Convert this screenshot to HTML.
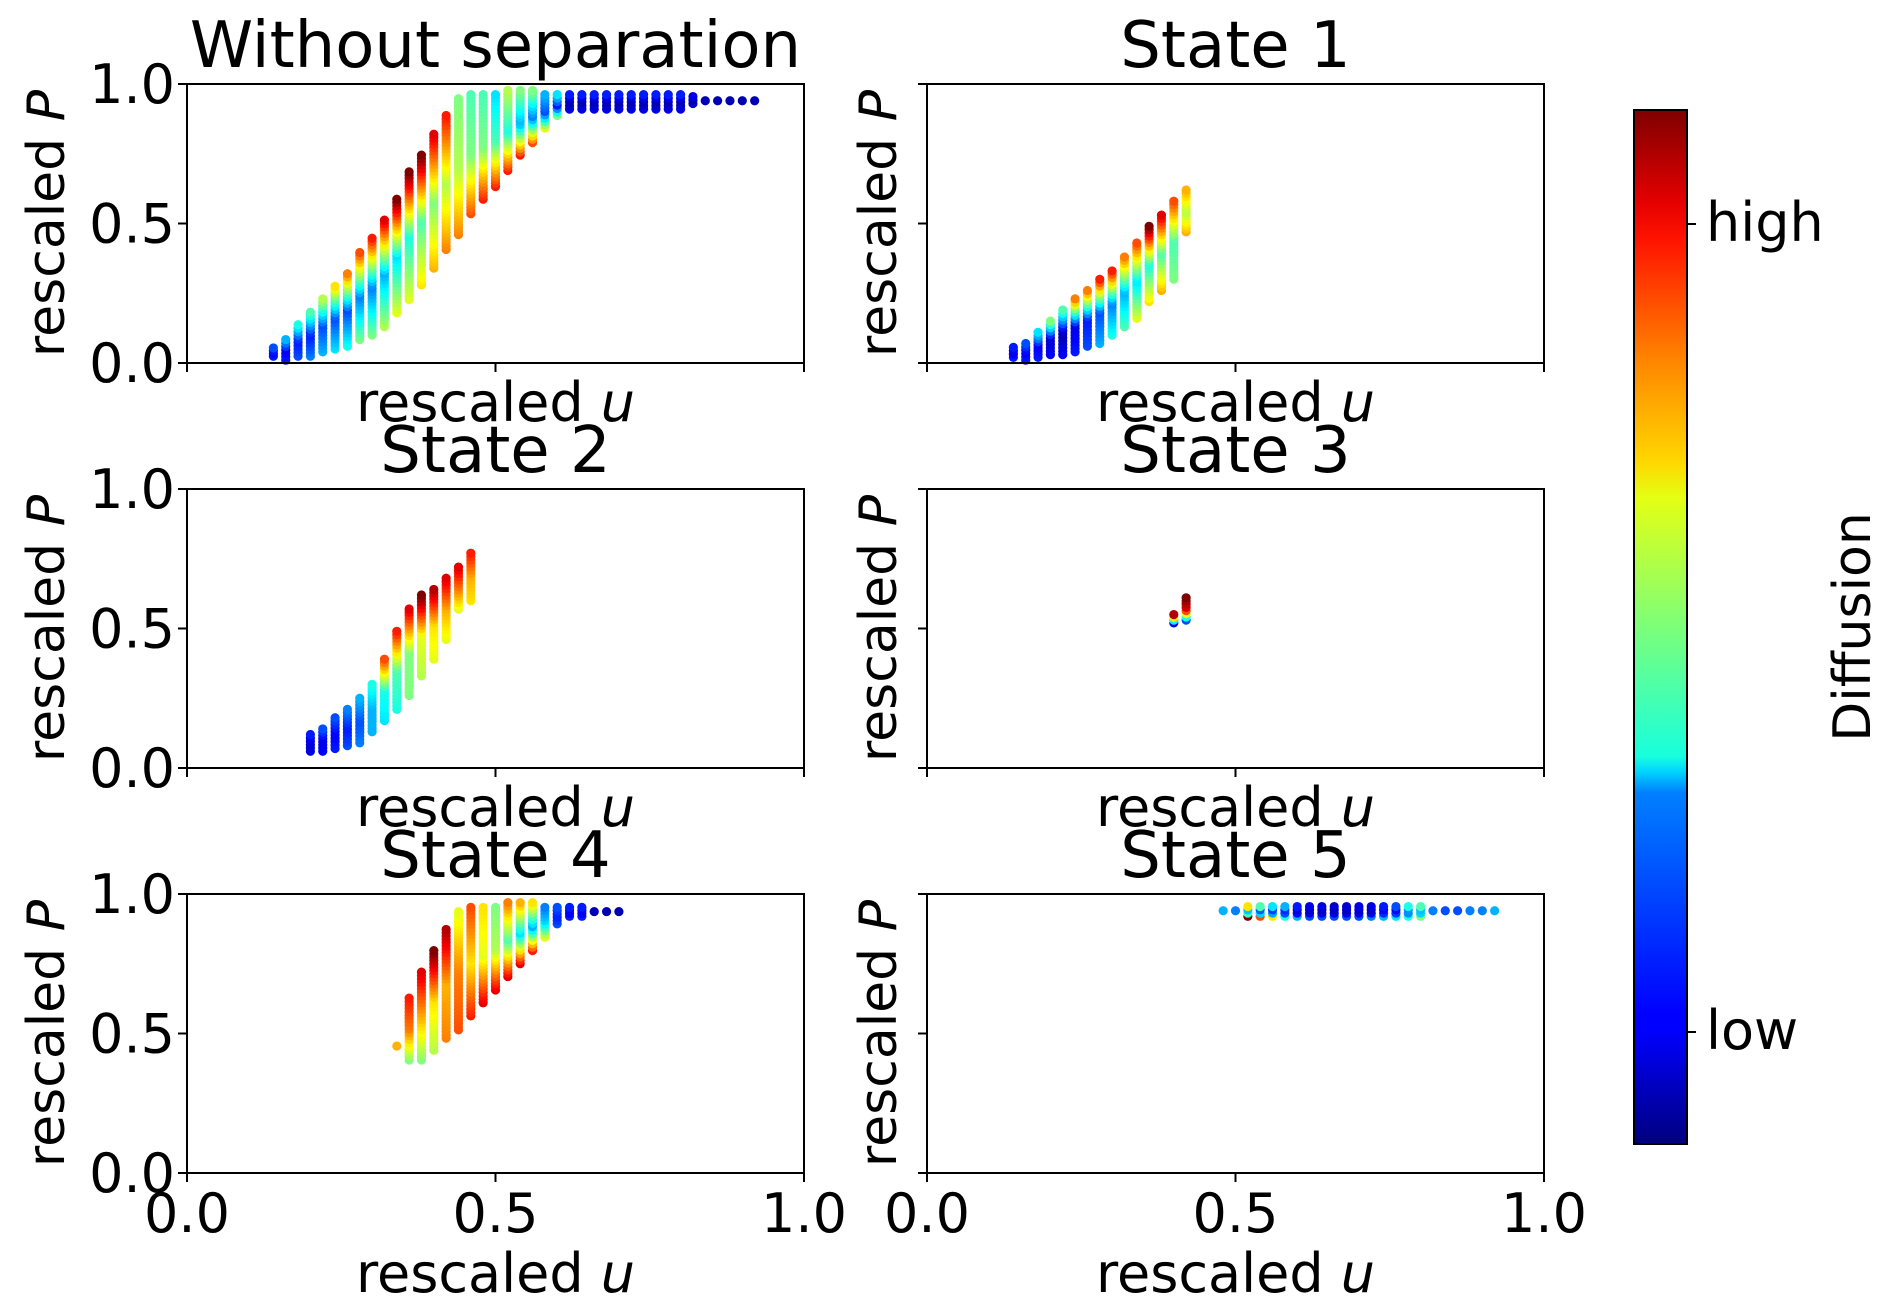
<!DOCTYPE html>
<html><head><meta charset="utf-8">
<style>
html,body{margin:0;padding:0;background:#fff;}
svg{display:block;font-family:"DejaVu Sans","Liberation Sans",sans-serif;}
</style></head>
<body>
<svg id="chart" width="1892" height="1312" viewBox="0 0 1892 1312" xmlns="http://www.w3.org/2000/svg">
<defs>
<linearGradient id="jet" x1="0" y1="1" x2="0" y2="0">
<stop offset="0" stop-color="#00007f"/><stop offset="0.11" stop-color="#0000ff"/>
<stop offset="0.125" stop-color="#0000ff"/><stop offset="0.34" stop-color="#0080ff"/>
<stop offset="0.36" stop-color="#00d4ff"/><stop offset="0.375" stop-color="#18ffde"/>
<stop offset="0.5" stop-color="#7cff79"/><stop offset="0.625" stop-color="#e4ff13"/>
<stop offset="0.66" stop-color="#ffd700"/><stop offset="0.75" stop-color="#ff8c00"/>
<stop offset="0.875" stop-color="#ff1300"/><stop offset="0.91" stop-color="#e60000"/>
<stop offset="1" stop-color="#7f0000"/>
</linearGradient>
</defs>
<g id="root"></g>
</svg>
<script>
// ---------- data ----------
// Panel 0: Without separation
const u0 = [0.14,0.16,0.18,0.20,0.22,0.24,0.26,0.28,0.30,0.32,0.34,0.36,0.38,0.40,0.42,0.44,0.46,0.48,0.50,0.52,0.54,0.56,0.58,0.60,0.62,0.64,0.66,0.68,0.70,0.72,0.74,0.76,0.78,0.80,0.82,0.84,0.86,0.88,0.90,0.92];
const lo0 = [0.024,0.01,0.024,0.024,0.04,0.05,0.06,0.084,0.10,0.13,0.18,0.227,0.28,0.34,0.407,0.46,0.535,0.587,0.632,0.69,0.745,0.79,0.842,0.887,0.91,0.91,0.91,0.91,0.91,0.91,0.91,0.91,0.91,0.91,0.93,0.94,0.94,0.94,0.94,0.94];
const hi0 = [0.054,0.084,0.137,0.182,0.23,0.275,0.32,0.396,0.447,0.512,0.587,0.685,0.745,0.82,0.887,0.947,0.962,0.962,0.962,0.977,0.977,0.977,0.962,0.962,0.962,0.962,0.962,0.962,0.962,0.962,0.962,0.962,0.962,0.962,0.955,0.94,0.94,0.94,0.94,0.94];
const cTop0 = [0.2,0.3,0.4,0.45,0.55,0.65,0.75,0.8,0.85,0.9,1.0,1.0,1.0,0.9,0.85,0.5,0.45,0.45,0.35,0.55,0.5,0.5,0.3,0.35,0.15,0.15,0.15,0.15,0.15,0.15,0.15,0.15,0.15,0.15,0.1,0.05,0.05,0.05,0.05,0.05];
const cMid0 = [0.12,0.12,0.15,0.15,0.2,0.2,0.2,0.25,0.25,0.3,0.35,0.4,0.45,0.5,0.55,0.55,0.5,0.5,0.45,0.4,0.3,0.25,0.2,0.15,0.05,0.05,0.05,0.05,0.05,0.05,0.05,0.05,0.05,0.05,0.05,0.05,0.05,0.05,0.05,0.05];
const cBot0 = [0.15,0.15,0.2,0.25,0.3,0.35,0.4,0.5,0.5,0.55,0.6,0.6,0.65,0.7,0.75,0.75,0.8,0.85,0.85,0.85,0.85,0.8,0.6,0.5,0.1,0.1,0.1,0.1,0.1,0.1,0.1,0.1,0.1,0.1,0.08,0.05,0.05,0.05,0.05,0.05];
// Panel 1: State 1
const u1 = [0.14,0.16,0.18,0.20,0.22,0.24,0.26,0.28,0.30,0.32,0.34,0.36,0.38,0.40,0.42];
const lo1 = [0.02,0.01,0.02,0.03,0.03,0.04,0.06,0.07,0.10,0.13,0.16,0.22,0.26,0.30,0.47];
const hi1 = [0.056,0.07,0.11,0.15,0.19,0.23,0.26,0.30,0.33,0.38,0.43,0.49,0.53,0.58,0.62];
const cTop1 = [0.15,0.2,0.35,0.5,0.45,0.75,0.75,0.85,0.85,0.75,0.8,1.0,0.9,0.8,0.7];
const cMid1 = [0.1,0.12,0.12,0.08,0.05,0.1,0.15,0.2,0.25,0.3,0.35,0.4,0.45,0.45,0.55];
const cBot1 = [0.15,0.15,0.15,0.12,0.12,0.15,0.2,0.3,0.4,0.45,0.6,0.65,0.7,0.5,0.7];
// Panel 2: State 2
const u2 = [0.20,0.22,0.24,0.26,0.28,0.30,0.32,0.34,0.36,0.38,0.40,0.42,0.44,0.46];
const lo2 = [0.06,0.06,0.07,0.08,0.09,0.13,0.17,0.21,0.26,0.33,0.39,0.46,0.57,0.60];
const hi2 = [0.12,0.14,0.18,0.21,0.25,0.30,0.39,0.49,0.57,0.62,0.64,0.68,0.72,0.77];
const cTop2 = [0.15,0.2,0.2,0.25,0.3,0.4,0.8,0.85,0.9,1.0,0.95,0.9,0.9,0.85];
const cMid2 = [0.08,0.1,0.12,0.15,0.2,0.3,0.4,0.45,0.5,0.6,0.65,0.7,0.75,0.7];
const cBot2 = [0.1,0.12,0.15,0.2,0.25,0.3,0.35,0.4,0.5,0.55,0.6,0.6,0.6,0.65];
// Panel 3: State 3
const u3 = [0.40,0.42];
const lo3 = [0.52,0.53];
const hi3 = [0.55,0.61];
const cTop3 = [0.95,1.0];
const cMid3 = [0.5,0.9];
const cBot3 = [0.1,0.2];
// Panel 4: State 4
const u4 = [0.34,0.36,0.38,0.40,0.42,0.44,0.46,0.48,0.50,0.52,0.54,0.56,0.58,0.60,0.62,0.64,0.66,0.68,0.70];
const lo4 = [0.455,0.405,0.405,0.44,0.483,0.513,0.563,0.61,0.656,0.704,0.75,0.797,0.845,0.893,0.92,0.92,0.937,0.937,0.937];
const hi4 = [0.455,0.627,0.72,0.797,0.873,0.937,0.952,0.952,0.952,0.969,0.969,0.969,0.952,0.952,0.952,0.952,0.937,0.937,0.937];
const cTop4 = [0.7,0.85,0.9,1.0,0.95,0.6,0.8,0.65,0.5,0.75,0.7,0.65,0.25,0.2,0.15,0.15,0.05,0.05,0.05];
const cMid4 = [0.7,0.75,0.7,0.65,0.7,0.75,0.65,0.6,0.55,0.45,0.35,0.3,0.35,0.15,0.1,0.1,0.05,0.05,0.05];
const cBot4 = [0.7,0.5,0.5,0.55,0.75,0.8,0.85,0.9,0.9,0.9,0.9,0.85,0.6,0.2,0.15,0.15,0.05,0.05,0.05];
// Panel 5: State 5
const u5 = [0.48,0.50,0.52,0.54,0.56,0.58,0.60,0.62,0.64,0.66,0.68,0.70,0.72,0.74,0.76,0.78,0.80,0.82,0.84,0.86,0.88,0.90,0.92];
const lo5 = [0.94,0.94,0.92,0.92,0.92,0.92,0.92,0.92,0.92,0.92,0.92,0.92,0.92,0.92,0.92,0.92,0.92,0.94,0.94,0.94,0.94,0.94,0.94];
const hi5 = [0.94,0.94,0.955,0.955,0.955,0.955,0.955,0.955,0.955,0.955,0.955,0.955,0.955,0.955,0.955,0.955,0.955,0.94,0.94,0.94,0.94,0.94,0.94];
const cTop5 = [0.3,0.25,0.65,0.45,0.35,0.3,0.15,0.1,0.1,0.08,0.08,0.1,0.1,0.15,0.2,0.4,0.45,0.25,0.2,0.2,0.25,0.25,0.3];
const cMid5 = [0.3,0.25,0.15,0.1,0.1,0.1,0.05,0.05,0.05,0.05,0.05,0.05,0.05,0.1,0.1,0.2,0.25,0.25,0.2,0.2,0.25,0.25,0.3];
const cBot5 = [0.3,0.25,1.0,0.8,0.65,0.4,0.3,0.2,0.2,0.2,0.2,0.2,0.25,0.3,0.35,0.4,0.5,0.25,0.2,0.2,0.25,0.25,0.3];

const titles = ["Without separation","State 1","State 2","State 3","State 4","State 5"];
const tickVals = [0.0,0.5,1.0];
const tickLabels = ["0.0","0.5","1.0"];
const panels = [[u0,lo0,hi0,cTop0,cMid0,cBot0],[u1,lo1,hi1,cTop1,cMid1,cBot1],[u2,lo2,hi2,cTop2,cMid2,cBot2],[u3,lo3,hi3,cTop3,cMid3,cBot3],[u4,lo4,hi4,cTop4,cMid4,cBot4],[u5,lo5,hi5,cTop5,cMid5,cBot5]];

// ---------- rendering ----------
const NS = "http://www.w3.org/2000/svg";
const root = document.getElementById("root");
function el(tag, attrs, parent){ const e=document.createElementNS(NS,tag); for(const k in attrs) e.setAttribute(k,attrs[k]); (parent||root).appendChild(e); return e; }
function jet(v){
  v=Math.max(0,Math.min(1,v));
  const r=Math.max(0,Math.min(1,1.5-Math.abs(4*v-3)));
  const g=Math.max(0,Math.min(1,1.5-Math.abs(4*v-2)));
  const b=Math.max(0,Math.min(1,1.5-Math.abs(4*v-1)));
  return "rgb("+Math.round(r*255)+","+Math.round(g*255)+","+Math.round(b*255)+")";
}
const colX=[187,927], rowY=[84,489,894], PW=617, PH=279;
for(let i=0;i<6;i++){
  const col=i%2, row=Math.floor(i/2);
  const x0=colX[col], y0=rowY[row];
  const sx=v=>x0+v*PW, sy=v=>y0+PH-v*PH;
  const g=el("g",{});
  
  
  const [u,lo,hi,ct,cm,cb]=panels[i];
  const pts=el("g",{},g);
  
  
  for(let j=0;j<u.length;j++){
    const n=Math.max(1,Math.round((hi[j]-lo[j])/0.012)+1);
    for(let k=0;k<n;k++){
      const t=n===1?0.5:k/(n-1);
      const p=lo[j]+(hi[j]-lo[j])*t;
      const c = t<0.5 ? cb[j]+(cm[j]-cb[j])*(t/0.5) : cm[j]+(ct[j]-cm[j])*((t-0.5)/0.5);
      const d=el("circle",{cx:sx(u[j]),cy:sy(p),r:4.6,fill:jet(c)},pts);
      
      
    }
  }
  const frame=el("rect",{x:x0,y:y0,width:PW,height:PH,fill:"none",stroke:"#000","stroke-width":2},g);
  
  
  for(let t=0;t<3;t++){
    el("line",{x1:sx(tickVals[t]),x2:sx(tickVals[t]),y1:y0+PH,y2:y0+PH+9,stroke:"#000","stroke-width":2},g);
    el("line",{x1:x0,x2:x0-9,y1:sy(tickVals[t]),y2:sy(tickVals[t]),stroke:"#000","stroke-width":2},g);
    if(col===0){
      const tl=el("text",{x:x0-12,y:sy(tickVals[t])+19,"text-anchor":"end","font-size":54},g);
      tl.textContent=tickLabels[t];
      
      
    }
    if(row===2){
      const tl=el("text",{x:sx(tickVals[t]),y:1232,"text-anchor":"middle","font-size":54},g);
      tl.textContent=tickLabels[t];
      
      
    }
  }
  const tt=el("text",{x:x0+PW/2,y:y0-17,"text-anchor":"middle","font-size":64},g);
  tt.textContent=titles[i];
  
  
  const xl=el("text",{x:x0+PW/2,y:row===2?1292:y0+PH+58,"text-anchor":"middle","font-size":54},g);
  xl.innerHTML='rescaled <tspan font-style="italic">u</tspan>';
  
  
  const ycx=col===0?64:896;
  const yl=el("text",{x:ycx,y:y0+PH/2,"text-anchor":"middle","font-size":52,transform:"rotate(-90 "+ycx+" "+(y0+PH/2)+")"},g);
  yl.innerHTML='rescaled <tspan font-style="italic">P</tspan>';
  
  
}
// colorbar
const cbg=el("g",{});


el("rect",{x:1634,y:110,width:53,height:1034,fill:"url(#jet)",stroke:"#000","stroke-width":2},cbg);
const cbTicks=[["high",224],["low",1032]];
for(const [lab,y] of cbTicks){
  el("line",{x1:1687,x2:1696,y1:y,y2:y,stroke:"#000","stroke-width":2},cbg);
  const t=el("text",{x:1706,y:y+17,"font-size":54},cbg);
  t.textContent=lab;
  
  
}
const dl=el("text",{x:1870,y:627,"text-anchor":"middle","font-size":52,transform:"rotate(-90 1870 627)"},cbg);
dl.textContent="Diffusion";


</script>
</body></html>
